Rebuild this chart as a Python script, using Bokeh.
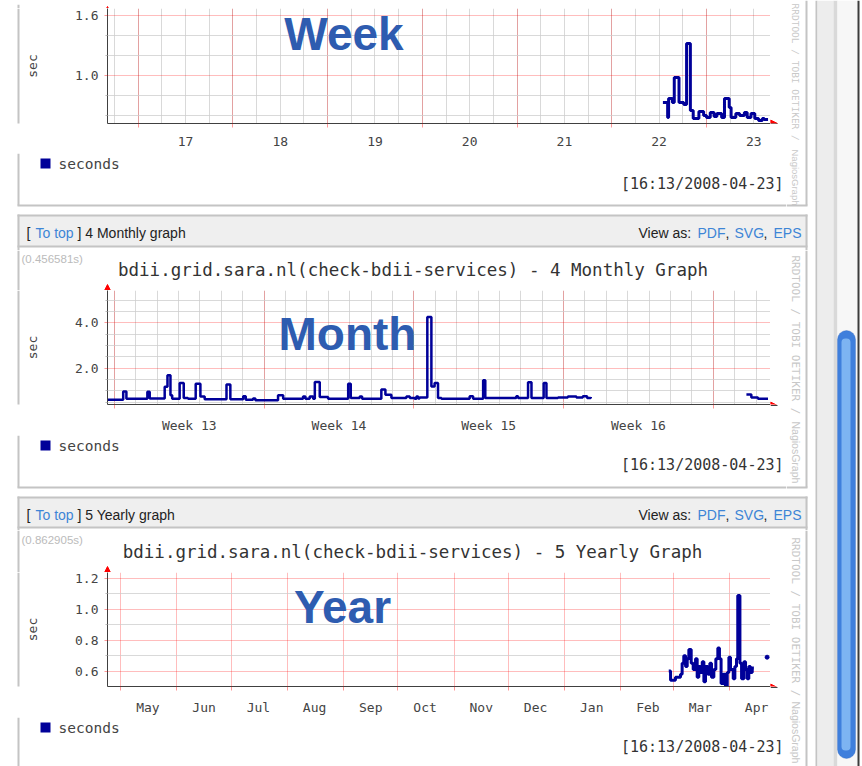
import math
import numpy as np
from bokeh.plotting import figure
from bokeh.models import (FixedTicker, PrintfTickFormatter, Label, BoxAnnotation,
                          Arrow, NormalHead)
from bokeh.layouts import row, column
from bokeh.embed import file_html
from bokeh.resources import INLINE

# ---------------- data ----------------
# Week graph: x = day of April 2008 (fractional), y = seconds
week_days = [22.54, 22.59, 22.60, 22.64, 22.66, 22.71, 22.76, 22.79, 22.83, 22.86,
             22.92, 22.97, 23.00, 23.04, 23.08, 23.11, 23.16, 23.19, 23.24, 23.26,
             23.31, 23.35, 23.40, 23.43, 23.47, 23.51, 23.55, 23.59, 23.61, 23.65]
week_secs = [0.73, 0.58, 0.77, 0.73, 0.98, 0.73, 0.71, 1.32, 0.65, 0.57,
             0.64, 0.60, 0.58, 0.63, 0.59, 0.62, 0.58, 0.77, 0.68, 0.58,
             0.62, 0.60, 0.63, 0.58, 0.62, 0.57, 0.55, 0.57, 0.56, 0.56]
week_day_labels = [17, 18, 19, 20, 21, 22, 23]

# Month graph: x = days since Mon 2008-03-24 00:00 (start of week 13)
month_days_a = [-0.32, 0.41, 0.56, 1.54, 1.65, 2.35, 2.48, 2.62, 2.70, 3.05,
                3.24, 3.44, 3.80, 4.02, 4.22, 5.24, 5.42, 6.02, 6.14, 6.48,
                6.59, 7.65, 7.89, 8.82, 8.93, 9.13, 9.29, 9.37, 9.60, 9.99,
                10.93, 11.05, 11.47, 11.58, 12.48, 12.67, 12.95, 13.65, 13.81, 14.04,
                14.12, 14.20, 14.27, 14.63, 14.82, 14.97, 15.13, 15.29, 16.61, 16.77,
                17.24, 17.34, 18.79, 18.87, 19.34, 19.50, 20.07, 20.20, 20.74, 21.20,
                21.60, 21.90, 22.10, 22.27]
month_secs_a = [0.60, 0.97, 0.64, 0.95, 0.66, 1.17, 1.68, 0.80, 0.64, 1.34,
                0.68, 0.64, 1.31, 0.74, 0.62, 1.27, 0.62, 0.76, 0.60, 0.66,
                0.58, 0.80, 0.64, 0.74, 0.64, 0.74, 0.64, 1.38, 0.72, 0.64,
                1.31, 0.68, 0.74, 0.64, 1.05, 0.82, 0.68, 0.74, 0.68, 0.64,
                0.74, 0.66, 0.70, 4.26, 1.19, 1.34, 0.68, 0.64, 0.76, 0.64,
                1.46, 0.68, 0.76, 0.68, 1.37, 0.68, 1.34, 0.68, 0.70, 0.74,
                0.70, 0.76, 0.68, 0.72]
month_days_b = [29.55, 29.78, 30.09, 30.56]
month_secs_b = [0.83, 0.70, 0.64, 0.64]
week_numbers = [13, 14, 15, 16]

# Year graph: x = days since 2007-05-01
year_days = [302.5, 303.5, 306.2, 309.0, 309.9, 310.8, 311.8, 312.7, 313.6, 314.9,
             316.0, 317.3, 318.2, 319.1, 320.0, 321.0, 321.9, 322.8, 324.1, 325.2,
             326.1, 327.4, 328.5, 329.6, 330.5, 331.4, 332.6, 333.8, 334.8, 335.7,
             336.6, 338.1, 339.0, 339.9, 340.6, 341.8, 342.7, 344.0, 344.9, 345.8,
             346.7, 347.6, 348.6, 349.5]
year_secs = [0.60, 0.54, 0.56, 0.58, 0.65, 0.70, 0.63, 0.68, 0.74, 0.65,
             0.61, 0.68, 0.56, 0.63, 0.59, 0.66, 0.53, 0.63, 0.58, 0.65,
             0.56, 0.61, 0.68, 0.75, 0.68, 0.52, 0.58, 0.50, 0.59, 0.69,
             0.61, 0.55, 0.63, 0.68, 1.09, 0.65, 0.55, 0.66, 0.61, 0.55,
             0.63, 0.59, 0.62, 0.62]
year_tail_days = [356.8]
year_tail_secs = [0.69]
month_names = ["May", "Jun", "Jul", "Aug", "Sep", "Oct", "Nov", "Dec",
               "Jan", "Feb", "Mar", "Apr"]
month_lengths = [31, 30, 31, 31, 30, 31, 30, 31, 31, 29, 31, 30]

host_title = "bdii.grid.sara.nl(check-bdii-services)"
stamp = "[16:13/2008-04-23]"
series_name = "seconds"

# ---------------- style ----------------
BLUE = "#000099"
MONO = "DejaVu Sans Mono"
SANS = "Liberation Sans"
LINK = "#3d85d6"
TXT = "#222222"
BORDER = "#c4c4c4"
BIG = "#2e5cb0"
PLOT_W, PLOT_H = 750, 145   # plot figure (frame 663 x 115)
LEFT_W, GAP_W, RIGHT_W = 20, 16, 22
COL_W = LEFT_W + PLOT_W + GAP_W   # 786
FULL_W = COL_W + RIGHT_W          # 808


def blank(w, h):
    f = figure(width=w, height=h, output_backend="svg", toolbar_location=None,
               tools="", min_border=0, x_axis_type=None, y_axis_type=None,
               x_range=(0, 1), y_range=(0, 1))
    f.outline_line_color = None
    f.background_fill_color = "white"
    f.border_fill_color = "white"
    return f


def rect(f, l, r, t, b, fill, line=None, lw=0, **kw):
    f.add_layout(BoxAnnotation(left=l, right=r, top=t, bottom=b,
                               left_units="canvas", right_units="canvas",
                               top_units="canvas", bottom_units="canvas",
                               fill_color=fill, fill_alpha=1.0 if fill else 0.0,
                               line_color=line, line_width=lw, **kw))


def vline(f, x, y0, y1, color=BORDER):
    rect(f, x - 1, x + 1, y0, y1, color)


def hline(f, y, x0, x1, color=BORDER):
    rect(f, x0, x1, y - 1, y + 1, color)


def lab(f, x, y, text, font=SANS, size="14px", color=TXT, align="left",
        baseline="middle", angle=0.0, style="normal"):
    f.add_layout(Label(x=x, y=y, x_units="canvas", y_units="canvas", text=text,
                       text_font=font, text_font_size=size, text_color=color,
                       text_align=align, text_baseline=baseline, angle=angle,
                       text_font_style=style))


def arrow(f, x0, y0, x1, y1):
    f.add_layout(Arrow(end=NormalHead(size=7, fill_color="#ff0000", line_color="#ff0000"),
                       x_start=x0, y_start=y0, x_end=x1, y_end=y1,
                       start_units="canvas", end_units="canvas",
                       line_color="#404040", line_width=1))


def plot_fig(xr, yr, lab_pos, lab_txt, xred, xgray, ymaj, ymin):
    p = figure(width=PLOT_W, height=PLOT_H, x_range=xr, y_range=yr,
               output_backend="svg", toolbar_location=None, tools="",
               min_border_left=87, min_border_right=0,
               min_border_top=0, min_border_bottom=30)
    p.outline_line_color = None
    p.background_fill_color = "white"
    p.border_fill_color = "white"
    xa = p.xaxis[0]
    ya = p.yaxis[0]
    xa.ticker = FixedTicker(ticks=list(lab_pos), minor_ticks=list(xred))
    xa.major_label_overrides = {float(v): t for v, t in zip(lab_pos, lab_txt)}
    ya.ticker = FixedTicker(ticks=list(ymaj), minor_ticks=list(ymin))
    ya.formatter = PrintfTickFormatter(format="%.1f")
    for ax in (xa, ya):
        ax.axis_line_color = "#404040"
        ax.major_label_text_font = MONO
        ax.major_label_text_font_size = "13px"
        ax.major_label_text_color = "#444444"
    xa.major_tick_out = 0
    xa.major_tick_in = 0
    xa.minor_tick_out = 4
    xa.minor_tick_in = 0
    xa.minor_tick_line_color = "#ff0000"
    xa.minor_tick_line_alpha = 0.4
    xa.major_label_standoff = 9
    ya.major_tick_out = 3
    ya.major_tick_in = 0
    ya.major_tick_line_color = "#ff0000"
    ya.major_tick_line_alpha = 0.4
    ya.minor_tick_out = 2
    ya.minor_tick_in = 0
    ya.minor_tick_line_color = "#bbbbbb"
    ya.major_label_standoff = 6
    ya.axis_label = "sec"
    ya.axis_label_text_font = MONO
    ya.axis_label_text_font_size = "13px"
    ya.axis_label_text_font_style = "normal"
    ya.axis_label_text_color = "#444444"
    ya.axis_label_standoff = 32
    for g, maj, mnr in ((p.xgrid[0], xred, xgray), (p.ygrid[0], ymaj, ymin)):
        g.ticker = FixedTicker(ticks=list(maj), minor_ticks=list(mnr))
        g.grid_line_color = "#ff0000"
        g.grid_line_alpha = 0.26
        g.minor_grid_line_color = "#cccccc"
        g.minor_grid_line_alpha = 0.75
    return p


def header_fig(box_top, hdr_bottom, ty, graph_no, kind):
    f = blank(FULL_W, 40)
    rect(f, 17, 807, box_top, hdr_bottom, "#efefef")
    hline(f, box_top, 17, 807)
    hline(f, hdr_bottom, 17, 807)
    vline(f, 18, box_top - 1, 40)
    vline(f, 806, box_top - 1, 40)
    lab(f, 26, ty, "[")
    lab(f, 35, ty, "To top", color=LINK)
    lab(f, 77, ty, "] %d %s graph" % (graph_no, kind))
    lab(f, 638, ty, "View as:")
    lab(f, 697, ty, "PDF", color=LINK)
    lab(f, 725, ty, ",")
    lab(f, 734, ty, "SVG", color=LINK)
    lab(f, 763, ty, ",")
    lab(f, 773, ty, "EPS", color=LINK)
    return f


def title_fig(h, timing, title, t_y, title_y, title_x):
    f = blank(COL_W, h)
    vline(f, 18, 0, h)
    lab(f, 21, t_y, timing, size="11.5px", color="#bbbbbb")
    lab(f, title_x, title_y, title, font=MONO, size="17.5px", color="#333333",
        align="center")
    arrow(f, 107, h, 107, h - 6)
    return f


def side_strips():
    left = blank(LEFT_W, PLOT_H)
    vline(left, 18, 0, PLOT_H)
    gap = blank(GAP_W, PLOT_H)
    arrow(gap, 0, 115, 7, 115)
    return left, gap


def footer_fig(h, legend_y, stamp_y, box_bottom):
    f = blank(COL_W, h)
    vline(f, 18, 0, box_bottom if box_bottom is not None else h)
    if box_bottom is not None:
        hline(f, box_bottom, 17, COL_W)
    # legend: colour swatch + series name
    rect(f, 40, 50, legend_y - 5, legend_y + 5, BLUE)
    lab(f, 58, legend_y, series_name, font=MONO, size="14.5px", color="#444444")
    lab(f, 783, stamp_y, stamp, font=MONO, size="15px", color="#333333", align="right")
    return f


def right_fig(h, top, box_bottom, wm_y, nag_y, wm_size="11px", nag_size="14px"):
    f = blank(RIGHT_W, h)
    vline(f, 20, top, box_bottom if box_bottom is not None else h)
    if box_bottom is not None:
        hline(f, box_bottom, 0, 21)
    lab(f, 9, wm_y, "RRDTOOL / TOBI OETIKER / ", font=MONO, size=wm_size,
        color="#c8c8c8", angle=-math.pi / 2)
    lab(f, 9, nag_y, "NagiosGraph", font=SANS, size=nag_size,
        color="#c8c8c8", angle=-math.pi / 2)
    return f


# ---------------- week panel (ref y 0..210) ----------------
wk_lab_pos = [d + 0.5 for d in week_day_labels]
wk_red = [float(d) for d in week_day_labels]
wk_gray = list(np.arange(16.75, 23.7, 0.25))
p1 = plot_fig((16.676, 23.676), (0.52, 1.67), wk_lab_pos,
              [str(d) for d in week_day_labels], wk_red, wk_gray,
              [1.0, 1.6], [0.6, 0.8, 1.2, 1.4])
p1.step(x=week_days, y=week_secs, mode="after", line_color=BLUE, line_width=3)
lab(p1, 323.5, 25.5, "Week", size="46px", color=BIG, align="center", style="bold")
top1 = blank(COL_W, 8)
vline(top1, 18, 0, 8)
arrow(top1, 107, 8, 107, 2)
l1, g1 = side_strips()
panel1 = row(column(top1, row(l1, p1, g1), footer_fig(57, 10, 30, 52)),
             right_fig(210, 0, 205, 3, 149, "9.5px", "9.5px"))

# ---------------- month panel (ref y 210..490) ----------------
mo_red = [7.0 * i for i in range(len(week_numbers) + 1)]
mo_lab_pos = [7.0 * i + 3.5 for i in range(len(week_numbers))]
mo_gray = [float(d) for d in range(0, 31)]
p2 = plot_fig((-0.324, 30.676), (0.39, 5.43), mo_lab_pos,
              ["Week %d" % w for w in week_numbers], mo_red, mo_gray,
              [2.0, 4.0], [0.5, 1.0, 1.5, 2.5, 3.0, 3.5, 4.5, 5.0])
p2.step(x=month_days_a, y=month_secs_a, mode="after", line_color=BLUE, line_width=2.5)
p2.step(x=month_days_b, y=month_secs_b, mode="after", line_color=BLUE, line_width=2.5)
lab(p2, 327, 43.5, "Month", size="46px", color=BIG, align="center", style="bold")
l2, g2 = side_strips()
panel2 = column(
    header_fig(5, 36, 22, 4, "Monthly"),
    row(column(title_fig(40, "(0.456581s)", "%s - 4 Monthly Graph" % host_title, 8, 19, 412.5),
               row(l2, p2, g2),
               footer_fig(55, 10, 29, 52)),
        right_fig(240, 0, 237, 5, 171, "11px", "10.5px")))

# ---------------- year panel (ref y 490..766) ----------------
month_starts = list(np.cumsum([0] + month_lengths[:-1]).astype(float))
yr_lab_pos = [s + 15 for s in month_starts]
p3 = plot_fig((-7.324, 358.676), (0.5, 1.239), yr_lab_pos, month_names,
              month_starts, [], [0.6, 0.8, 1.0, 1.2], [0.7, 0.9, 1.1])
p3.step(x=year_days, y=year_secs, mode="after", line_color=BLUE, line_width=3)
p3.scatter(x=year_tail_days, y=year_tail_secs, size=4, color=BLUE)
lab(p3, 322, 34.5, "Year", size="46px", color=BIG, align="center", style="bold")
l3, g3 = side_strips()
panel3 = column(
    header_fig(7, 37, 24, 5, "Yearly"),
    row(column(title_fig(42, "(0.862905s)", "%s - 5 Yearly Graph" % host_title, 9, 21, 412),
               row(l3, p3, g3),
               footer_fig(49, 10, 29, None)),
        right_fig(236, 0, None, 7, 171, "11px", "10.5px")))

# ---------------- browser scrollbar (ref x 808..862) ----------------
sb = blank(54, 766)
rect(sb, 7, 9, 0, 766, "#c4c4c4")
rect(sb, 9, 25, 0, 766, "#ededed")
rect(sb, 25, 29, 0, 766, "#d9d9d9")
rect(sb, 29, 49, 0, 766, "#f7f7f7")
rect(sb, 49, 51, 0, 766, "#3c3c3c")
try:
    rect(sb, 29, 47, 330, 758, "#3f7fdc", line="#2a5fb8", lw=1, border_radius=9)
    rect(sb, 33, 42, 338, 750, "#7db4f2", border_radius=4)
except Exception:
    rect(sb, 29, 47, 330, 758, "#3f7fdc", line="#2a5fb8", lw=1)
    rect(sb, 33, 42, 338, 750, "#7db4f2")

layout = row(column(panel1, panel2, panel3), sb)
open("out.html", "w").write(file_html(layout, INLINE))
